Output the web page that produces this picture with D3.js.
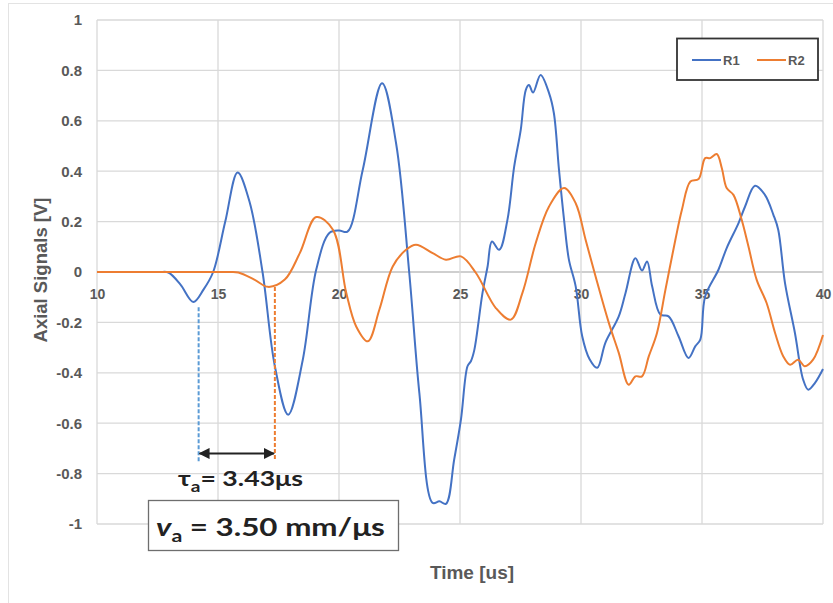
<!DOCTYPE html>
<html>
<head>
<meta charset="utf-8">
<script src="https://cdn.jsdelivr.net/npm/d3@7"></script>
<style>
  body { margin: 0; background: #fff; }
  .tick text { font-family: "Liberation Sans", Arial, sans-serif; font-weight: bold; fill: #595959; }
  .axisTitle { font-family: "Liberation Sans", Arial, sans-serif; font-weight: bold; fill: #595959; }
  .note { font-family: Lato, "Open Sans", sans-serif; font-weight: bold; fill: #222; }
</style>
</head>
<body>
<div id="chart"></div>
<script>
// Data (time in us, signal in V)
var timeR1 = [10, 11, 12, 12.6, 12.95, 13.45, 13.98, 14.4, 14.8, 15.3, 15.81, 16.3, 16.84, 17.35, 17.9, 18.5, 19.06, 19.6, 20.0, 20.35, 20.98, 21.78, 22.36, 22.9, 23.32, 23.87, 24.15, 24.42, 24.76, 25.04, 25.31, 25.45, 25.59, 25.93, 26.14, 26.32, 26.62, 26.96, 27.24, 27.51, 27.72, 27.85, 28.02, 28.33, 28.68, 28.88, 29.09, 29.3, 29.5, 29.78, 30.05, 30.35, 30.67, 31.01, 31.56, 31.84, 32.25, 32.52, 32.73, 32.94, 33.28, 33.62, 34.03, 34.44, 34.72, 34.93, 35.13, 35.68, 36.02, 36.51, 36.78, 37.19, 37.6, 37.95, 38.15, 38.43, 38.84, 39.18, 39.39, 39.67, 40];
var valR1 = [0, 0, 0, 0, -0.002, -0.05, -0.119, -0.07, 0.0, 0.2, 0.395, 0.28, 0.0, -0.374, -0.566, -0.35, 0.01, 0.155, 0.165, 0.16, 0.405, 0.749, 0.51, 0.0, -0.48, -0.916, -0.91, -0.92, -0.744, -0.585, -0.374, -0.354, -0.31, -0.083, 0.022, 0.121, 0.088, 0.207, 0.419, 0.564, 0.723, 0.742, 0.712, 0.782, 0.71, 0.63, 0.406, 0.207, 0.049, -0.057, -0.255, -0.345, -0.38, -0.28, -0.176, -0.083, 0.055, 0.006, 0.042, -0.057, -0.169, -0.176, -0.255, -0.341, -0.295, -0.268, -0.097, 0.009, 0.095, 0.194, 0.26, 0.342, 0.306, 0.227, 0.168, -0.044, -0.242, -0.427, -0.467, -0.44, -0.385];

var timeR2 = [10, 11, 12, 13, 14, 15, 15.5, 15.84, 16.5, 17.07, 17.76, 18.38, 19.06, 19.75, 20.3, 20.71, 21.19, 21.67, 22.22, 22.77, 23.18, 23.87, 24.42, 25.04, 25.66, 26.48, 27.1, 27.58, 28.13, 28.68, 29.3, 29.78, 30.19, 30.6, 31.15, 31.56, 31.97, 32.25, 32.52, 32.8, 33.14, 33.49, 33.9, 34.17, 34.52, 34.86, 35.13, 35.34, 35.61, 35.82, 36.02, 36.3, 36.64, 36.92, 37.26, 37.67, 38.02, 38.36, 38.64, 38.97, 39.25, 39.59, 40];
var valR2 = [0, 0, 0, 0, 0, 0, 0, -0.002, -0.03, -0.059, -0.03, 0.075, 0.218, 0.168, -0.083, -0.216, -0.275, -0.149, 0.022, 0.088, 0.108, 0.075, 0.049, 0.062, -0.004, -0.143, -0.189, -0.083, 0.115, 0.26, 0.333, 0.273, 0.128, -0.017, -0.202, -0.321, -0.447, -0.414, -0.414, -0.335, -0.242, -0.07, 0.128, 0.247, 0.359, 0.369, 0.452, 0.452, 0.468, 0.412, 0.333, 0.306, 0.207, 0.101, -0.031, -0.123, -0.242, -0.335, -0.368, -0.348, -0.374, -0.348, -0.25];

var xTicks = [10, 15, 20, 25, 30, 35, 40];
var yTicks = [-1, -0.8, -0.6, -0.4, -0.2, 0, 0.2, 0.4, 0.6, 0.8, 1];
var seriesNames = ["R1", "R2"];
var seriesColors = ["#4472C4", "#ED7D31"];

// delay markers (us)
var markerTimes = [14.2, 17.35];
var markerColors = ["#5B9BD5", "#ED7D31"];

var svgWidth = 833;
var svgHeight = 603;

var svg = d3.select("#chart")
    .append("svg")
    .attr("width", svgWidth)
    .attr("height", svgHeight);

// chart frame (only top/left edges show)
svg.append("rect")
    .attr("x", 8.5).attr("y", 3.5)
    .attr("width", 840).attr("height", 620)
    .attr("fill", "none")
    .attr("stroke", "#e3e3e3");

var xScale = d3.scaleLinear().domain([10, 40]).range([97, 823]);
var yScale = d3.scaleLinear().domain([-1, 1]).range([524, 20]);

// gridlines
var grid = svg.append("g");
grid.selectAll(".hgrid")
    .data(yTicks)
    .enter()
    .append("line")
    .attr("x1", xScale(10)).attr("x2", xScale(40))
    .attr("y1", d => yScale(d)).attr("y2", d => yScale(d))
    .attr("stroke", d => d === 0 ? "#bfbfbf" : "#d9d9d9")
    .attr("stroke-width", 1.3);

grid.selectAll(".vgrid")
    .data(xTicks)
    .enter()
    .append("line")
    .attr("x1", d => xScale(d)).attr("x2", d => xScale(d))
    .attr("y1", yScale(1)).attr("y2", yScale(-1))
    .attr("stroke", "#d9d9d9")
    .attr("stroke-width", 1.3);

// axes (labels only)
var leftAxis = d3.axisLeft(yScale)
    .tickValues(yTicks)
    .tickSize(0)
    .tickPadding(15)
    .tickFormat(d => String(d));
var yAxis = svg.append("g")
    .attr("transform", `translate(${xScale(10)}, 0)`)
    .call(leftAxis);
yAxis.select(".domain").remove();
yAxis.selectAll("text").style("font-size", "15px");

var bottomAxis = d3.axisBottom(xScale)
    .tickValues(xTicks)
    .tickSize(0)
    .tickPadding(17);
var xAxis = svg.append("g")
    .attr("transform", `translate(0, ${yScale(0)})`)
    .call(bottomAxis);
xAxis.select(".domain").remove();
xAxis.selectAll("text").style("font-size", "14px");

// axis titles
svg.append("text")
    .attr("class", "axisTitle")
    .attr("transform", `translate(47, ${yScale(0) - 2}) rotate(-90)`)
    .attr("text-anchor", "middle")
    .style("font-size", "18.5px")
    .text("Axial Signals [V]");

svg.append("text")
    .attr("class", "axisTitle")
    .attr("x", 472)
    .attr("y", 579)
    .attr("text-anchor", "middle")
    .style("font-size", "19px")
    .text("Time [us]");

// series lines
var line = d3.line()
    .x(d => xScale(d[0]))
    .y(d => yScale(d[1]))
    .curve(d3.curveCatmullRom.alpha(0.5));

var r1 = timeR1.map((t, i) => [t, valR1[i]]);
var r2 = timeR2.map((t, i) => [t, valR2[i]]);

[r1, r2].forEach(function(pts, i) {
    svg.append("path")
        .datum(pts)
        .attr("d", line)
        .attr("fill", "none")
        .attr("stroke", seriesColors[i])
        .attr("stroke-width", 2)
        .attr("stroke-linejoin", "round");
});

// legend
var legend = svg.append("g");
legend.append("rect")
    .attr("x", 677).attr("y", 38.5)
    .attr("width", 141).attr("height", 41.5)
    .attr("fill", "#fff")
    .attr("stroke", "#333")
    .attr("stroke-width", 1.8);

var legendX = [692, 757];
seriesNames.forEach(function(name, i) {
    legend.append("line")
        .attr("x1", legendX[i]).attr("x2", legendX[i] + 29)
        .attr("y1", 60).attr("y2", 60)
        .attr("stroke", seriesColors[i])
        .attr("stroke-width", 2);
    legend.append("text")
        .attr("class", "axisTitle")
        .attr("x", legendX[i] + 31)
        .attr("y", 65)
        .style("font-size", "13px")
        .text(name);
});

// delay markers
var markerTop = [-0.14, -0.06];
var markerBottom = [-0.755, -0.745];
markerTimes.forEach(function(t, i) {
    svg.append("line")
        .attr("x1", xScale(t)).attr("x2", xScale(t))
        .attr("y1", yScale(markerTop[i])).attr("y2", yScale(markerBottom[i]))
        .attr("stroke", markerColors[i])
        .attr("stroke-width", 2)
        .attr("stroke-dasharray", "4,2");
});

var defs = svg.append("defs");
defs.append("marker")
    .attr("id", "arrowHead")
    .attr("viewBox", "0 0 10 10")
    .attr("refX", 9).attr("refY", 5)
    .attr("markerWidth", 5.5).attr("markerHeight", 5.5)
    .attr("orient", "auto-start-reverse")
    .append("path")
    .attr("d", "M0,0 L10,5 L0,10 Z")
    .attr("fill", "#222");

svg.append("line")
    .attr("x1", xScale(markerTimes[0]) + 1).attr("x2", xScale(markerTimes[1]) - 1)
    .attr("y1", yScale(-0.72)).attr("y2", yScale(-0.72))
    .attr("stroke", "#222")
    .attr("stroke-width", 2)
    .attr("marker-start", "url(#arrowHead)")
    .attr("marker-end", "url(#arrowHead)");

// stretch a note horizontally so it spans the wanted width
function fitWidth(sel, x, y, width) {
    var w = sel.node().getBBox().width;
    sel.attr("transform", `translate(${x}, ${y}) scale(${width / w}, 1)`);
}

// tau note
var tau = svg.append("text")
    .attr("class", "note")
    .style("font-size", "21px");
tau.append("tspan").text("τ");
tau.append("tspan").attr("dy", 6).style("font-size", "15px").text("a");
tau.append("tspan").attr("dy", -6).text("= 3.43μs");
fitWidth(tau, 178, 486, 125);

// velocity box
svg.append("rect")
    .attr("x", 148.5).attr("y", 500.5)
    .attr("width", 250).attr("height", 50)
    .attr("fill", "#fff")
    .attr("stroke", "#6e6e6e")
    .attr("stroke-width", 1.3);

var vel = svg.append("text")
    .attr("class", "note")
    .style("font-size", "25px");
vel.append("tspan").style("font-style", "italic").text("v");
vel.append("tspan").attr("dy", 6).style("font-size", "17px").text("a");
vel.append("tspan").attr("dy", -6).text(" = 3.50 mm/μs");
fitWidth(vel, 156, 536, 229);
</script>
</body>
</html>
